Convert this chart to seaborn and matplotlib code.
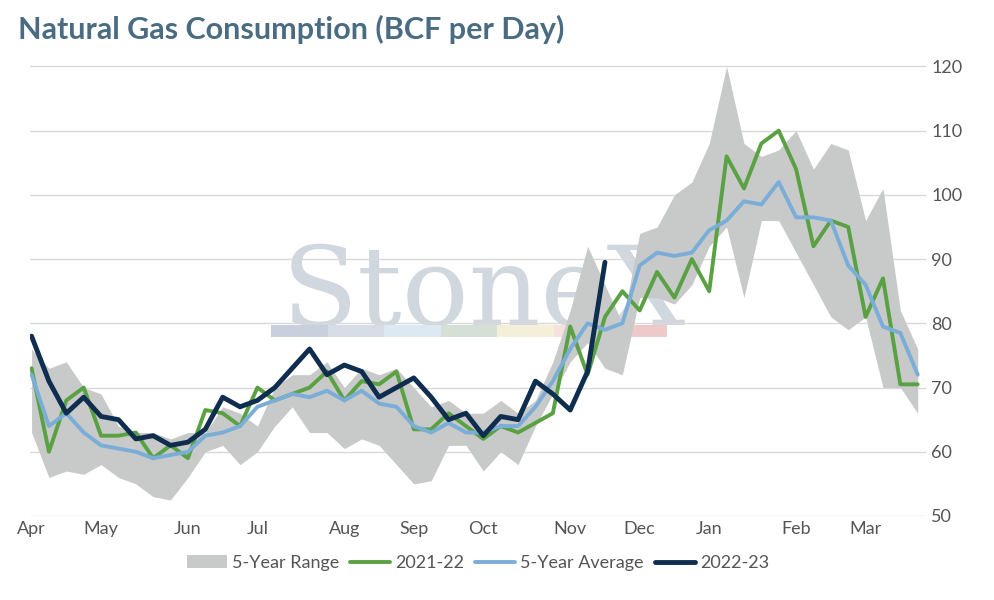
import numpy as np
import pandas as pd
import seaborn as sns
import matplotlib.pyplot as plt

months = ['Apr', 'May', 'Jun', 'Jul', 'Aug', 'Sep', 'Oct', 'Nov', 'Dec', 'Jan', 'Feb', 'Mar']
month_weeks = [0, 4, 9, 13, 18, 22, 26, 31, 35, 39, 44, 48]

range_high = [76,73,74,70,69,64,63,63,62,63, 63,67,66,64,70,72,72,74,70,73,
              72,73,70,67,68,66,66,68,66,68, 74,82,92,86,80,94,95,100,102,108,
              120,108,106,107,110,104,108,107,96,101, 82,76]
range_low = [63,56,57,56.5,58,56,55,53,52.5,56, 60,61,58,60,64,67,63,63,60.5,62,
             61,58,55,55.5,61,61,57,60,58,64, 69,74,77,73,72,84,84,83,86,92,
             95,84,96,96,91,86,81,79,81,70, 70,66]
y2021 = [73,60,68,70,62.5,62.5,63,59,61,59, 66.5,66,64,70,68,69,70,72.5,68,71,
         70.5,72.5,63.5,63.5,66,64,62,64,63,64.5, 66,79.5,72,81,85,82,88,84,90,85,
         106,101,108,110,104,92,96,95,81,87, 70.5,70.5]
avg5 = [72,64,66,63,61,60.5,60,59,59.5,60, 62.5,63,64,67,68,69,68.5,69.5,68,69.5,
        67.5,67,64,63,64.5,63,63,64,64,67, 71,76,80,79,80,89,91,90.5,91,94.5,
        96,99,98.5,102,96.5,96.5,96,89,86,79.5, 78.5,72]
y2022 = [78,71,66,68.5,65.5,65,62,62.5,61,61.5, 63.5,68.5,67,68,70,73,76,72,73.5,72.5,
         68.5,70,71.5,68.5,65,66,62.5,65.5,65,71, 69,66.5,72.5,89.5]

sns.set_style("white")
plt.rcParams['font.family'] = ['Lato', 'DejaVu Sans']

weeks = np.arange(len(avg5))
df = pd.DataFrame({'week': weeks, '2021-22': y2021, '5-Year Average': avg5})
df22 = pd.DataFrame({'week': np.arange(len(y2022)), '2022-23': y2022})

fig, ax = plt.subplots(figsize=(9.94, 6.0), dpi=100)
fig.subplots_adjust(left=0.03, right=0.932, top=0.9, bottom=0.14)

ax.fill_between(weeks, range_low, range_high, color='#c8c9c9', lw=0, label='5-Year Range')
sns.lineplot(data=df, x='week', y='2021-22', ax=ax, color='#5aa144', lw=2.8, label='2021-22')
sns.lineplot(data=df, x='week', y='5-Year Average', ax=ax, color='#7aaed8', lw=2.8, label='5-Year Average')
sns.lineplot(data=df22, x='week', y='2022-23', ax=ax, color='#0f2d4e', lw=3.5, label='2022-23')

ax.text(26, 84.5, 'StoneX', fontsize=80, family='DejaVu Serif', color='#c5cdd8',
        alpha=0.8, ha='center', va='center', zorder=0.5)
cols = ['#c7d0dc', '#d6dde6', '#dde9f2', '#d4e0d6', '#f4efd8', '#f5e2dc', '#eec9c9']
x0, w = 13.9, 3.25
for i, c in enumerate(cols):
    ax.axhspan(77.8, 79.8, xmin=(x0 + i*w)/51.6, xmax=(x0 + (i+1)*w)/51.6, color=c, lw=0, zorder=0.5)

ax.set_xlim(-0.1, 51.5)
ax.set_ylim(50, 121)
ax.set_yticks(range(50, 121, 10))
ax.yaxis.tick_right()
ax.set_xticks(month_weeks)
ax.set_xticklabels(months)
ax.tick_params(axis='both', labelsize=13, colors='#555555', length=0)
ax.grid(axis='y', color='#d9d9d9', lw=1)
ax.set_axisbelow(True)
for s in ax.spines.values():
    s.set_visible(False)
ax.set_xlabel('')
ax.set_ylabel('')

ax.legend(loc='upper center', bbox_to_anchor=(0.5, -0.05), ncol=4, frameon=False,
          fontsize=13, handlelength=2.2, columnspacing=0.6, handletextpad=0.3,
          labelcolor='#555555')
fig.text(0.018, 0.935, 'Natural Gas Consumption (BCF per Day)', fontsize=22,
         fontweight='bold', color='#4a6c82')

fig.savefig('out.png')
